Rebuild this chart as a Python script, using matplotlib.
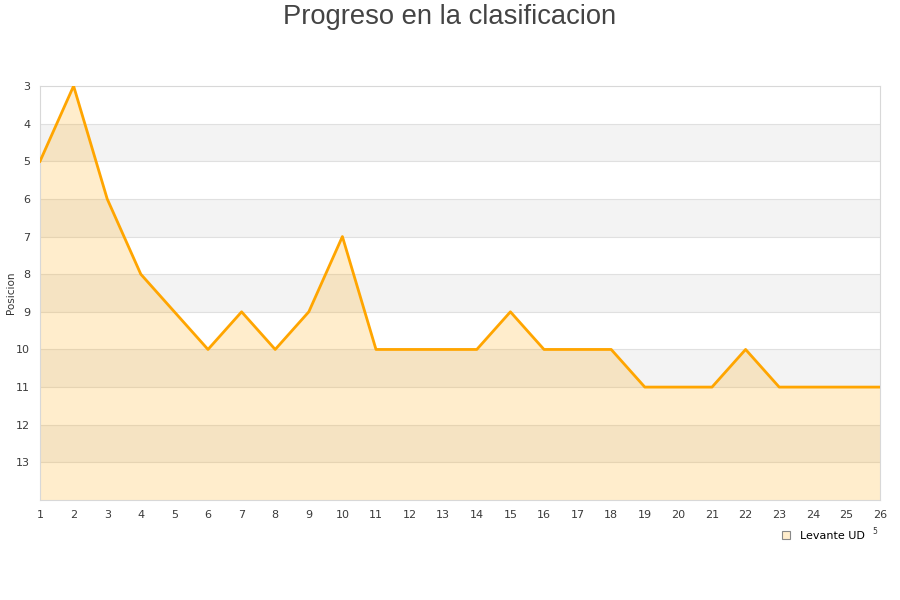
import matplotlib
matplotlib.use("Agg")
import matplotlib.pyplot as plt
from matplotlib.lines import Line2D

# jornadas y posiciones
jornadas = list(range(1, 27))
posicion = [5, 3, 6, 8, 9, 10, 9, 10, 9, 7, 10, 10, 10, 10, 9,
            10, 10, 10, 11, 11, 11, 10, 11, 11, 11, 11]
y_ticks = list(range(3, 14))

fig = plt.figure(figsize=(9, 6), dpi=100)
ax = fig.add_axes([40 / 900, 100 / 600, 840 / 900, 414 / 600])

ax.set_xlim(1, 26)
ax.set_ylim(14, 3)

# bandas alternas
for y0 in range(4, 14, 2):
    ax.axhspan(y0, y0 + 1, color="#f3f3f3", zorder=0, lw=0)
for y in range(4, 14):
    ax.axhline(y, color="#e0e0e0", lw=0.8, zorder=1)

ax.fill_between(jornadas, posicion, 14, color="#ffa500", alpha=0.2, lw=0, zorder=2)
ax.plot(jornadas, posicion, color="#ffa500", lw=2, zorder=3)

ax.set_yticks(y_ticks)
ax.set_xticks(jornadas)
ax.tick_params(length=0, labelsize=8, colors="#3a3a3a", pad=7)
for s in ax.spines.values():
    s.set_color("#d8d8d8")

fig.text(11 / 900, 1 - 293 / 600, "Posicion", rotation=90, ha="center", va="center",
         fontsize=7.5, color="#333333")
fig.text(0.5, 1 - 17 / 600, "Progreso en la clasificacion", ha="center", va="center",
         fontsize=19.7, color="#444444", family="Liberation Sans")

handle = Line2D([], [], marker="s", ls="", markersize=6,
                markerfacecolor="#ffedcc", markeredgecolor="#888888", markeredgewidth=0.8)
fig.legend([handle], ["Levante UD"], loc="center", bbox_to_anchor=(820 / 900, 1 - 536 / 600),
           frameon=False, fontsize=8, handletextpad=0.3)
fig.text(875 / 900, 1 - 532 / 600, "5", fontsize=5.5, color="#333333", ha="center", va="center")

fig.savefig("out.png", dpi=100)
